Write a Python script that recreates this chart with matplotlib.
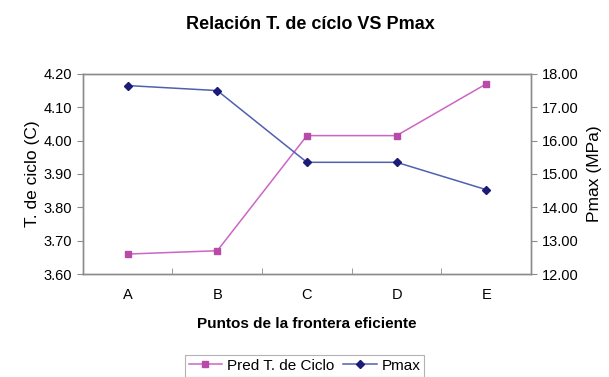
import matplotlib
matplotlib.use("Agg")
import matplotlib.pyplot as plt
from matplotlib.ticker import FixedLocator, FormatStrFormatter, NullFormatter

plt.rcParams["font.family"] = ["Liberation Sans", "DejaVu Sans"]

# Puntos de la frontera eficiente
puntos = ["A", "B", "C", "D", "E"]
pred_ciclo = [3.66, 3.67, 4.015, 4.015, 4.17]   # T. de ciclo (C)
pmax = [17.65, 17.50, 15.35, 15.35, 14.53]      # Pmax (MPa)

PINK_LINE, PINK_MK = "#cc66c4", "#b84aa8"
BLUE_LINE, BLUE_MK = "#5060b0", "#1c1c78"
GRID = "#8c8c8c"

fig = plt.figure(figsize=(6.09, 3.77), dpi=100)
ax = fig.add_axes([0.136, 0.273, 0.736, 0.531])
ax2 = ax.twinx()

x = list(range(len(puntos)))
l1, = ax.plot(x, pred_ciclo, color=PINK_LINE, lw=1.1, marker="s", ms=5,
              mfc=PINK_MK, mec=PINK_MK, label="Pred T. de Ciclo")
l2, = ax2.plot(x, pmax, color=BLUE_LINE, lw=1.1, marker="D", ms=4.5,
               mfc=BLUE_MK, mec=BLUE_MK, label="Pmax")

ax.set_xlim(-0.5, len(puntos) - 0.5)
ax.set_ylim(3.60, 4.20)
ax2.set_ylim(12.0, 18.0)
ax.set_yticks([3.60 + 0.1 * i for i in range(7)])
ax2.set_yticks([12.0 + i for i in range(7)])
ax.yaxis.set_major_formatter(FormatStrFormatter("%.2f"))
ax2.yaxis.set_major_formatter(FormatStrFormatter("%.2f"))

# category labels centred, tick marks between categories
ax.set_xticks(x)
ax.set_xticklabels(puntos)
ax.xaxis.set_minor_locator(FixedLocator([i + 0.5 for i in range(len(puntos) - 1)]))
ax.xaxis.set_minor_formatter(NullFormatter())
ax.tick_params(axis="x", which="major", length=0, pad=10, labelsize=10.5)
ax.tick_params(axis="x", which="minor", length=4, direction="in", color=GRID)
ax.tick_params(axis="y", length=4, direction="out", color=GRID, labelsize=10.5)
ax2.tick_params(axis="y", length=4, direction="out", color=GRID, labelsize=10.5)

for a in (ax, ax2):
    for s in a.spines.values():
        s.set_color(GRID)
        s.set_linewidth(1.0)

ax.set_ylabel("T. de ciclo (C)", fontsize=12.5, labelpad=3)
ax2.set_ylabel("Pmax (MPa)", fontsize=12.5, labelpad=6)
ax.set_xlabel("Puntos de la frontera eficiente", fontsize=11,
              fontweight="bold", labelpad=11)
fig.text(0.51, 0.934, "Relación T. de cíclo VS Pmax", ha="center",
         va="center", fontsize=13, fontweight="bold")

leg = fig.legend(handles=[l1, l2], loc="center", bbox_to_anchor=(0.5, 0.03),
                 ncol=2, fontsize=11, frameon=True, fancybox=False,
                 handlelength=2.2, columnspacing=0.6, handletextpad=0.3,
                 borderpad=0.25, markerscale=0.85)
leg.get_frame().set_edgecolor("#a0a0a0")
leg.get_frame().set_linewidth(0.8)

fig.savefig("out.png", dpi=100, facecolor="white")
